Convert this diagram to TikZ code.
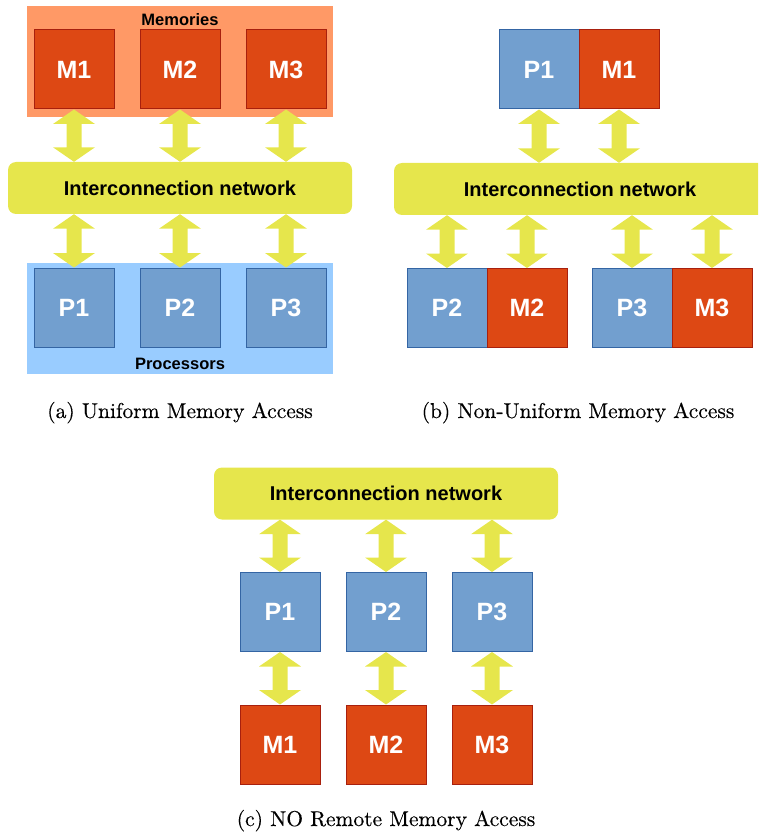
\documentclass[tikz,border=0pt]{standalone}
\usepackage{fontspec}
\usetikzlibrary{calc}
\newfontfamily\labelsans{Liberation Sans}
\newfontfamily\capserif{lmroman10-regular.otf}[FakeBold=0.35]

\definecolor{memfill}{HTML}{DD4814}
\definecolor{memline}{HTML}{A8200E}
\definecolor{memgroup}{HTML}{FF9966}
\definecolor{procfill}{HTML}{729FCF}
\definecolor{procline}{HTML}{3465A4}
\definecolor{procgroup}{HTML}{99CCFF}
\definecolor{netfill}{HTML}{E6E64C}

\tikzset{
  unitbox/.style={rectangle, line width=1pt, minimum width=80pt, minimum height=79pt,
    inner sep=0pt, text=white, font=\labelsans\bfseries\fontsize{25}{25}\selectfont},
  membox/.style={unitbox, draw=memline, fill=memfill},
  procbox/.style={unitbox, draw=procline, fill=procfill},
  groupbg/.style={rectangle, inner sep=0pt, minimum width=306pt, minimum height=111pt},
  grouplabel/.style={anchor=base, inner sep=0pt, font=\labelsans\bfseries\fontsize{16.5}{16.5}\selectfont},
  netbox/.style={rectangle, fill=netfill, rounded corners=8pt, inner sep=0pt,
    minimum height=52pt, font=\labelsans\bfseries\fontsize{20}{20}\selectfont},
  caption/.style={anchor=base, inner sep=0pt, font=\capserif\fontsize{21.5}{24}\selectfont},
  linkfill/.style={fill=netfill}
}

% double-headed block arrow from an upper point #1 down to a lower point #2
\newcommand\duplexlink[2]{%
  \fill[linkfill] let \p1=#1, \p2=#2 in
    (\x1,\y1) -- (\x1-21pt,\y1-14.5pt) -- (\x1-7.5pt,\y1-14.5pt) --
    (\x1-7.5pt,\y2+14.5pt) -- (\x1-21pt,\y2+14.5pt) -- (\x1,\y2) --
    (\x1+21pt,\y2+14.5pt) -- (\x1+7.5pt,\y2+14.5pt) --
    (\x1+7.5pt,\y1-14.5pt) -- (\x1+21pt,\y1-14.5pt) -- cycle;}

\begin{document}
\begin{tikzpicture}[x=1pt, y=-1pt]
\useasboundingbox (0,0) rectangle (758,834);
\clip (0,0) rectangle (758,834);

% ---------- (a) uniform memory access ----------
\node[groupbg, fill=memgroup] (memgrp) at (180,61.5) {};
\node[groupbg, fill=procgroup] (procgrp) at (180,318.5) {};
\node[grouplabel] (memlbl) at (180,26) {Memories};
\node[grouplabel] (proclbl) at (180,369) {Processors};
\node[netbox, minimum width=344pt] (netA) at (180,188) {Interconnection network};
\foreach \i/\x in {1/74, 2/180, 3/286} {
  \node[membox] (aM\i) at (\x,69.5) {M\i};
  \node[procbox] (aP\i) at (\x,307.5) {P\i};
}
\foreach \i in {1,2,3} {
  \duplexlink{(aM\i.south)}{(aM\i.south |- netA.north)}
  \duplexlink{(aP\i.north |- netA.south)}{(aP\i.north)}
}
\node[caption] (capA) at (180,418) {(a) Uniform Memory Access};

% ---------- (b) non-uniform memory access ----------
\node[netbox, minimum width=372pt] (netB) at (580,189) {Interconnection network};
\node[procbox] (bP1) at (539,69.5) {P1};
\node[membox] (bM1) at (619,69.5) {M1};
\node[procbox] (bP2) at (447,308) {P2};
\node[membox] (bM2) at (527,308) {M2};
\node[procbox] (bP3) at (632,308) {P3};
\node[membox] (bM3) at (712,308) {M3};
\foreach \unit in {bP1,bM1} {
  \duplexlink{(\unit.south)}{(\unit.south |- netB.north)}
}
\foreach \unit in {bP2,bM2,bP3,bM3} {
  \duplexlink{(\unit.north |- netB.south)}{(\unit.north)}
}
\node[caption] (capB) at (578,418) {(b) Non-Uniform Memory Access};

% ---------- (c) no remote memory access ----------
\node[netbox, minimum width=344pt] (netC) at (386,493.5) {Interconnection network};
\foreach \i/\x in {1/280, 2/386, 3/492} {
  \node[procbox] (cP\i) at (\x,612) {P\i};
  \node[membox] (cM\i) at (\x,744.5) {M\i};
}
\foreach \i in {1,2,3} {
  \duplexlink{(cP\i.north |- netC.south)}{(cP\i.north)}
  \duplexlink{(cP\i.south)}{(cM\i.north)}
}
\node[caption] (capC) at (386,826) {(c) NO Remote Memory Access};
\end{tikzpicture}
\end{document}
